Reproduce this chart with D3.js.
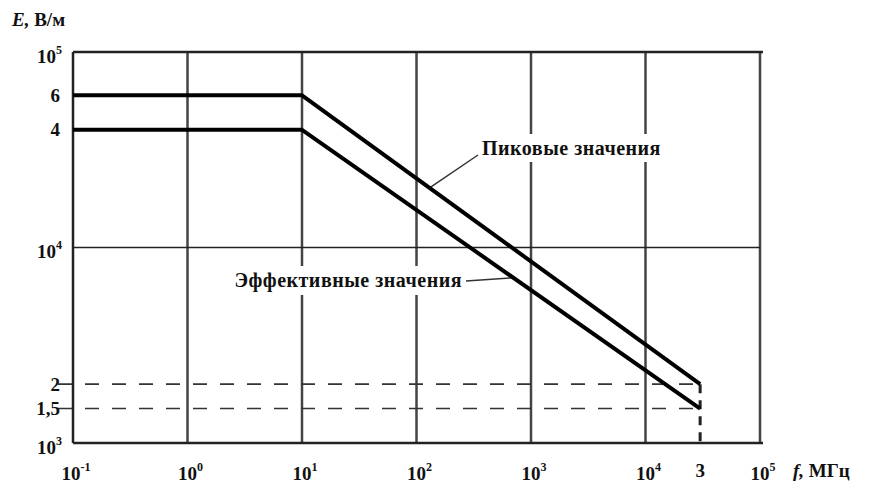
<!DOCTYPE html>
<html>
<head>
<meta charset="utf-8">
<script src="https://cdn.jsdelivr.net/npm/d3@7"></script>
<style>
  body { margin: 0; background: #fff; }
  svg text { font-family: "Liberation Serif", "Times New Roman", serif; font-weight: bold; fill: #111; }
</style>
</head>
<body>
<svg id="chart" width="872" height="489"></svg>
<script>
// decade exponents on each axis
var xDecades = [-1, 0, 1, 2, 3, 4, 5];
var yDecades = [3, 4, 5];
// frequency breakpoints, МГц
var freqs = [0.1, 10, 30000];
// field strength limits, В/м
var peak = [60000, 60000, 2000];
var effective = [40000, 40000, 1500];
// extra (mantissa) tick labels
var yMarks = [60000, 40000, 2000, 1500];
var yMarkLabels = ["6", "4", "2", "1,5"];
var xMarks = [30000];
var xMarkLabels = ["3"];

var svg = d3.select("#chart");
// note: "top" is taken by window.top, so prefix everything
var plotLeft = 73, plotRight = 760, plotTop = 52, plotBottom = 443;

var x = d3.scaleLog().domain([0.1, 1e5]).range([plotLeft, plotRight]);
var y = d3.scaleLog().domain([1e3, 1e5]).range([plotBottom, plotTop]);

// vertical grid at each decade
svg.append("g").selectAll("line")
    .data(xDecades)
    .enter().append("line")
    .attr("x1", function(d) { return x(Math.pow(10, d)); })
    .attr("x2", function(d) { return x(Math.pow(10, d)); })
    .attr("y1", plotTop).attr("y2", plotBottom)
    .attr("stroke", function(d) { return d == -1 ? "#222" : "#444"; })
    .attr("stroke-width", 2.5);

// horizontal: top border and 10^4 line
svg.append("line")
    .attr("x1", plotLeft).attr("x2", plotRight + 3)
    .attr("y1", y(1e5)).attr("y2", y(1e5))
    .attr("stroke", "#222").attr("stroke-width", 2.5);
svg.append("line")
    .attr("x1", plotLeft).attr("x2", plotRight)
    .attr("y1", y(1e4)).attr("y2", y(1e4))
    .attr("stroke", "#222").attr("stroke-width", 1.6);

// dashed reference lines for end values
svg.append("g").selectAll("line")
    .data([peak[2], effective[2]])
    .enter().append("line")
    .attr("x1", plotLeft - 15).attr("x2", x(freqs[2]))
    .attr("y1", function(d) { return y(d); })
    .attr("y2", function(d) { return y(d); })
    .attr("stroke", "#333").attr("stroke-width", 1.6)
    .attr("stroke-dasharray", "14,13");
svg.append("line")
    .attr("x1", x(freqs[2])).attr("x2", x(freqs[2]))
    .attr("y1", y(peak[2])).attr("y2", plotBottom)
    .attr("stroke", "#222").attr("stroke-width", 3)
    .attr("stroke-dasharray", "9,7");

// bottom axis line
svg.append("line")
    .attr("x1", plotLeft).attr("x2", plotRight + 3)
    .attr("y1", plotBottom).attr("y2", plotBottom)
    .attr("stroke", "#222").attr("stroke-width", 2.5);

var lineGen = d3.line()
    .x(function(d) { return x(d[0]); })
    .y(function(d) { return y(d[1]); });

// point on the sloping log-log segment of a series
function onSeries(vals, f) {
    var t = (Math.log10(f) - Math.log10(freqs[1])) / (Math.log10(freqs[2]) - Math.log10(freqs[1]));
    var lv = Math.log10(vals[1]) + t * (Math.log10(vals[2]) - Math.log10(vals[1]));
    return [x(f), y(Math.pow(10, lv))];
}

// label with white knock-out behind it (breaks the grid lines)
function label(txt, tx, ty, anchor) {
    var g = svg.append("g");
    var t = g.append("text")
        .attr("x", tx).attr("y", ty).attr("dy", "0.35em")
        .attr("text-anchor", anchor)
        .style("font-size", "20px")
        .style("letter-spacing", "0.5px")
        .text(txt);
    var b = t.node().getBBox();
    g.insert("rect", "text")
        .attr("x", b.x - 3).attr("y", b.y - 3)
        .attr("width", b.width + 6).attr("height", b.height + 6)
        .attr("fill", "#fff");
    return b;
}

var pb = label("Пиковые значения", 482, 148, "start");
var pa = onSeries(peak, 130);
svg.append("line")
    .attr("x1", pb.x - 4).attr("y1", 155)
    .attr("x2", pa[0]).attr("y2", pa[1])
    .attr("stroke", "#333").attr("stroke-width", 1.5);

var eb = label("Эффективные значения", 462, 280, "end");
var ea = onSeries(effective, 700);
svg.append("line")
    .attr("x1", eb.x + eb.width + 4).attr("y1", 281)
    .attr("x2", ea[0]).attr("y2", ea[1])
    .attr("stroke", "#333").attr("stroke-width", 1.5);

// the two curves
[peak, effective].forEach(function(vals) {
    svg.append("path")
        .datum(freqs.map(function(f, i) { return [f, vals[i]]; }))
        .attr("d", lineGen)
        .attr("fill", "none")
        .attr("stroke", "#000")
        .attr("stroke-width", 4)
        .attr("stroke-linejoin", "round");
});

// y tick labels
svg.append("g").selectAll("text")
    .data(yDecades)
    .enter().append("text")
    .attr("x", plotLeft - 11)
    .attr("y", function(d) { return y(Math.pow(10, d)) + 4; })
    .attr("dy", "0.35em")
    .attr("text-anchor", "end")
    .style("font-size", "19px")
    .each(function(d) {
        var t = d3.select(this);
        t.append("tspan").text("10");
        t.append("tspan").attr("dy", -9).style("font-size", "12px").text(d);
    });
svg.append("g").selectAll("text")
    .data(yMarks)
    .enter().append("text")
    .attr("x", plotLeft - 13)
    .attr("y", function(d) { return y(d); })
    .attr("dy", "0.35em")
    .attr("text-anchor", "end")
    .style("font-size", "19px")
    .text(function(d, i) { return yMarkLabels[i]; });

// x tick labels
svg.append("g").selectAll("text")
    .data(xDecades)
    .enter().append("text")
    .attr("x", function(d) { return x(Math.pow(10, d)) + 3; })
    .attr("y", 480)
    .attr("text-anchor", "middle")
    .style("font-size", "19px")
    .each(function(d) {
        var t = d3.select(this);
        t.append("tspan").text("10");
        t.append("tspan").attr("dy", -9).style("font-size", "12px").text(d);
    });
svg.append("g").selectAll("text")
    .data(xMarks)
    .enter().append("text")
    .attr("x", function(d) { return x(d); })
    .attr("y", 477)
    .attr("text-anchor", "middle")
    .style("font-size", "19px")
    .text(function(d, i) { return xMarkLabels[i]; });

// axis titles
var yt = svg.append("text").attr("x", 12).attr("y", 26).style("font-size", "19px");
yt.append("tspan").style("font-style", "italic").text("E,");
yt.append("tspan").text(" В/м");
var xt = svg.append("text").attr("x", 793).attr("y", 477).style("font-size", "19px");
xt.append("tspan").style("font-style", "italic").text("f,");
xt.append("tspan").text(" МГц");
</script>
</body>
</html>
